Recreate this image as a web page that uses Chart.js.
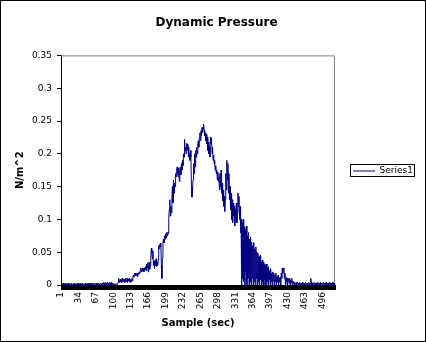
<!DOCTYPE html>
<html>
<head>
<meta charset="utf-8">
<script src="https://cdn.jsdelivr.net/npm/chart.js@4.4.1/dist/chart.umd.min.js"></script>
<style>
  html, body { margin: 0; padding: 0; background: #fff; }
  canvas { display: block; }
</style>
</head>
<body>
<canvas id="chart" width="426" height="342"></canvas>
<script>
const CHART_TITLE = "Dynamic Pressure";
const X_TITLE = "Sample (sec)";
const Y_TITLE = "N/m^2";
const SERIES_NAME = "Series1";
const LABEL_STEP = 33; // every 33rd sample gets a label
const Y_MIN = 0;
const Y_MAX = 0.35;
const Y_STEP = 0.05;

// one reading per second
const pressure = [
  0, 0.002, 0, 0.001, 0.003, 0, 0.002, 0, 0, 0.003, 0.001, 0, 0.002, 0, 0.003, 0, 0.001, 0.002, 0, 0,
  0.003, 0, 0.001, 0, 0.002, 0.003, 0, 0, 0.002, 0, 0.001, 0.003, 0, 0.002, 0, 0, 0.003, 0.001, 0, 0.002,
  0, 0.003, 0, 0.001, 0, 0.002, 0.003, 0, 0.001, 0, 0.002, 0, 0.003, 0, 0.001, 0.002, 0, 0.003, 0, 0.001,
  0.002, 0, 0.003, 0, 0, 0.002, 0.001, 0.003, 0, 0.002, 0, 0.003, 0.001, 0, 0.002, 0.003, 0, 0.001, 0.003, 0,
  0.002, 0.004, 0, 0.003, 0.001, 0.004, 0, 0.002, 0.004, 0, 0.003, 0.001, 0.004, 0, 0.002, 0.004, 0, 0.001, 0.003, 0,
  0.001, 0, 0.002, 0, 0.001, 0, 0.002, 0.001, 0.004, 0.01, 0.006, 0.004, 0.009, 0.005, 0.008, 0.004, 0.01, 0.006, 0.005, 0.009,
  0.004, 0.008, 0.01, 0.005, 0.007, 0.01, 0.004, 0.009, 0.006, 0.01, 0.005, 0.008, 0.004, 0.007, 0.01, 0.006, 0.012, 0.015, 0.012, 0.018,
  0.016, 0.018, 0.014, 0.017, 0.018, 0.013, 0.018, 0.016, 0.02, 0.018, 0.022, 0.026, 0.02, 0.024, 0.026, 0.021, 0.025, 0.02, 0.026, 0.023,
  0.028, 0.022, 0.032, 0.026, 0.034, 0.02, 0.03, 0.035, 0.024, 0.03, 0.042, 0.056, 0.048, 0.04, 0.052, 0.03, 0.038, 0.025, 0.036, 0.03,
  0.04, 0.028, 0.035, 0.03, 0.038, 0.06, 0.055, 0.062, 0.058, 0.064, 0.03, 0.01, 0.04, 0.065, 0.07, 0.064, 0.075, 0.07, 0.078, 0.072,
  0.08, 0.075, 0.08, 0.078, 0.1, 0.115, 0.13, 0.105, 0.12, 0.11, 0.135, 0.15, 0.125, 0.16, 0.14, 0.155, 0.15, 0.17, 0.165, 0.175,
  0.18, 0.17, 0.165, 0.178, 0.158, 0.175, 0.18, 0.168, 0.185, 0.175, 0.19, 0.182, 0.2, 0.195, 0.222, 0.205, 0.21, 0.2, 0.216, 0.205,
  0.215, 0.21, 0.195, 0.2, 0.19, 0.205, 0.195, 0.15, 0.134, 0.145, 0.16, 0.185, 0.17, 0.2, 0.18, 0.205, 0.195, 0.21, 0.2, 0.215,
  0.22, 0.21, 0.225, 0.232, 0.22, 0.235, 0.228, 0.24, 0.232, 0.238, 0.245, 0.236, 0.228, 0.232, 0.22, 0.23, 0.215, 0.225, 0.205, 0.218,
  0.2, 0.21, 0.195, 0.225, 0.215, 0.224, 0.2, 0.21, 0.19, 0.198, 0.185, 0.19, 0.175, 0.182, 0.17, 0.175, 0.16, 0.172, 0.158, 0.165,
  0.145, 0.17, 0.15, 0.175, 0.14, 0.155, 0.128, 0.145, 0.12, 0.135, 0.112, 0.13, 0.17, 0.145, 0.19, 0.16, 0.185, 0.14, 0.17, 0.13,
  0.15, 0.115, 0.14, 0.1, 0.13, 0.095, 0.125, 0.105, 0.12, 0.09, 0.115, 0.1, 0.125, 0.095, 0.11, 0.14, 0.12, 0.135, 0.1, 0.12,
  0.08, 0.1, 0, 0.095, 0.01, 0.1, 0.005, 0.088, 0, 0.085, 0.02, 0.09, 0, 0.075, 0.01, 0.08, 0, 0.07, 0.005, 0.073,
  0, 0.065, 0.01, 0.06, 0, 0.065, 0.005, 0.055, 0, 0.058, 0.01, 0.05, 0, 0.048, 0.005, 0.043, 0, 0.045, 0.008, 0.035,
  0, 0.038, 0.005, 0.035, 0, 0.032, 0.008, 0.03, 0, 0.032, 0.005, 0.026, 0, 0.028, 0.008, 0.022, 0, 0.025, 0.005, 0.018,
  0, 0.02, 0.006, 0.018, 0, 0.015, 0.005, 0.018, 0, 0.012, 0.004, 0.015, 0, 0.01, 0.005, 0.012, 0, 0.018, 0.01, 0.026,
  0.018, 0.022, 0.026, 0.01, 0.018, 0, 0.012, 0.005, 0.01, 0, 0.008, 0.01, 0.003, 0.01, 0, 0.008, 0.004, 0.01, 0, 0.006,
  0.002, 0.005, 0, 0.003, 0.001, 0.004, 0, 0.002, 0.004, 0, 0.003, 0.001, 0.004, 0, 0.002, 0.003, 0, 0.004, 0.001, 0,
  0.003, 0, 0.002, 0.004, 0, 0.001, 0.003, 0, 0.002, 0.004, 0, 0.003, 0.001, 0.01, 0.004, 0, 0.002, 0.003, 0, 0.004,
  0.001, 0, 0.003, 0.002, 0, 0.004, 0.001, 0, 0.003, 0.002, 0, 0.004, 0, 0.002, 0.003, 0, 0.001, 0.004, 0, 0.002,
  0.003, 0, 0.004, 0.001, 0, 0.003, 0.002, 0, 0.004, 0.001, 0, 0.003, 0.002, 0, 0.004, 0.001, 0, 0.003, 0, 0.002,
];

const samples = pressure.map((_, i) => String(i + 1));

Chart.defaults.font.family = "'DejaVu Sans', sans-serif";
Chart.defaults.color = "#000";

// white page, grey top/right edge of the plot, boxed legend, black outer frame
const framePlugin = {
  id: "frame",
  beforeDraw(chart) {
    const { ctx, width, height } = chart;
    ctx.save();
    ctx.fillStyle = "#fff";
    ctx.fillRect(0, 0, width, height);
    ctx.restore();
  },
  beforeDatasetsDraw(chart) {
    const { ctx, chartArea: a } = chart;
    ctx.save();
    ctx.strokeStyle = "#808080";
    ctx.lineWidth = 1;
    ctx.beginPath();
    ctx.moveTo(a.left, a.top + 0.5);
    ctx.lineTo(Math.round(a.right) - 0.5, a.top + 0.5);
    ctx.lineTo(Math.round(a.right) - 0.5, a.bottom);
    ctx.stroke();
    ctx.restore();
  },
  afterDraw(chart) {
    const { ctx, width, height } = chart;
    ctx.save();
    ctx.strokeStyle = "#000";
    ctx.lineWidth = 1;
    const hb = chart.legend && chart.legend.legendHitBoxes[0];
    if (hb) {
      ctx.strokeRect(Math.round(hb.left) - 2.5, Math.round(hb.top) - 2.5, Math.round(hb.width) + 4, Math.round(hb.height) + 3);
    }
    ctx.strokeRect(0.5, 0.5, width - 1, height - 1);
    ctx.restore();
  },
};

new Chart(document.getElementById("chart"), {
  type: "line",
  data: {
    labels: samples,
    datasets: [{
      label: SERIES_NAME,
      data: pressure,
      borderColor: "#000080",
      backgroundColor: "#000080",
      borderWidth: 1,
      pointRadius: 0,
      tension: 0,
      fill: false,
    }],
  },
  options: {
    responsive: false,
    animation: false,
    devicePixelRatio: 1,
    layout: { padding: { left: 10, right: 3, top: 0, bottom: 0 } },
    plugins: {
      title: {
        display: true,
        text: CHART_TITLE,
        color: "#000",
        font: { size: 12, weight: "bold" },
        padding: { top: 16, bottom: 25 },
      },
      legend: {
        position: "right",
        labels: {
          usePointStyle: true,
          pointStyle: "line",
          pointStyleWidth: 22,
          color: "#000",
          font: { size: 9 },
          padding: 18,
        },
      },
      tooltip: { enabled: false },
    },
    scales: {
      x: {
        type: "category",
        offset: false,
        border: { color: "#000", width: 1 },
        grid: { drawOnChartArea: false, drawTicks: true, tickLength: 5, color: "#000" },
        ticks: {
          autoSkip: false,
          minRotation: 90,
          maxRotation: 90,
          padding: 2,
          font: { size: 9 },
          color: "#000",
          callback: (value, index) => (index % LABEL_STEP === 0 ? samples[index] : ""),
        },
        title: {
          display: true,
          text: X_TITLE,
          color: "#000",
          font: { size: 10, weight: "bold" },
          padding: { top: 0, bottom: 13 },
        },
        afterFit: (scale) => { scale.height = 57; },
      },
      y: {
        min: Y_MIN,
        max: Y_MAX,
        border: { color: "#000", width: 1 },
        grid: { drawOnChartArea: false, drawTicks: true, tickLength: 4, color: "#000" },
        ticks: {
          stepSize: Y_STEP,
          padding: 5,
          font: { size: 9 },
          color: "#000",
          callback: (value) => String(+value.toFixed(2)),
        },
        title: {
          display: true,
          text: Y_TITLE,
          color: "#000",
          font: { size: 10, weight: "bold" },
          padding: { top: 4, bottom: 0 },
        },
        afterFit: (scale) => { scale.width = 51; },
      },
    },
  },
  plugins: [framePlugin],
});
</script>
</body>
</html>
